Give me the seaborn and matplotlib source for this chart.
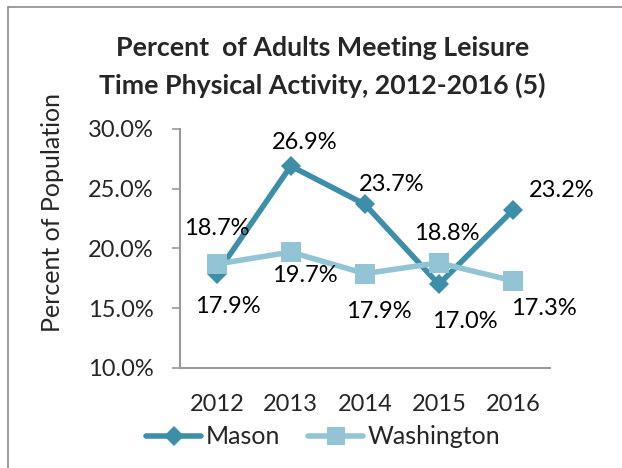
import matplotlib
matplotlib.use("Agg")
import matplotlib.pyplot as plt
import seaborn as sns
import pandas as pd
from matplotlib.lines import Line2D

years = ["2012", "2013", "2014", "2015", "2016"]
mason = [17.9, 26.9, 23.7, 17.0, 23.2]
washington = [18.7, 19.7, 17.9, 18.8, 17.3]

# label offsets (pixels) for each point
mason_off = [(11, -33), (14, 24), (27, 20), (26, -37), (49, 20)]
wash_off = [(0, 36), (14, -23), (14, -38), (8, 29), (31, -28)]

sns.set_theme(style="white")
plt.rcParams["font.family"] = ["Lato", "DejaVu Sans"]

MASON_C = "#3D8FA9"
WASH_C = "#93C4D6"

df = pd.DataFrame({
    "pos": list(range(len(years))) * 2,
    "value": mason + washington,
    "series": ["Mason"] * len(years) + ["Washington"] * len(years),
})

fig = plt.figure(figsize=(6.22, 4.68), dpi=100)
ax = fig.add_axes([0.289, 0.2137, 0.595, 0.5107])

sns.lineplot(data=df[df.series == "Mason"], x="pos", y="value", color=MASON_C,
             marker="D", linewidth=4, markersize=10, markeredgewidth=0, ax=ax)
sns.lineplot(data=df[df.series == "Washington"], x="pos", y="value", color=WASH_C,
             marker="s", linewidth=4, markersize=14, markeredgewidth=0, ax=ax)

for i, (m, w) in enumerate(zip(mason, washington)):
    ax.annotate(f"{m:.1f}%", (i, m), xytext=mason_off[i], textcoords="offset pixels",
                ha="center", va="center", fontsize=17, color="black")
    ax.annotate(f"{w:.1f}%", (i, w), xytext=wash_off[i], textcoords="offset pixels",
                ha="center", va="center", fontsize=17, color="black")

ax.set_xlim(-0.5, len(years) - 0.5)
ax.set_ylim(10, 30)
ax.set_yticks([10, 15, 20, 25, 30])
ax.set_yticklabels([f"{v:.1f}%" for v in [10, 15, 20, 25, 30]], fontsize=17)
ax.set_xticks(range(len(years)))
ax.set_xticklabels(years, fontsize=17)
ax.set_xticks([i - 0.5 for i in range(len(years) + 1)], minor=True)
ax.tick_params(axis="x", which="major", length=0, pad=19)
ax.tick_params(axis="x", which="minor", length=6, width=1.2, color="#9a9a9a", direction="out")
ax.tick_params(axis="y", length=6, width=1.2, color="#9a9a9a", direction="out", pad=13, left=True)
ax.set_xlabel("")
ax.set_ylabel("")
fig.text(53 / 622, 1 - 212 / 468, "Percent of Population", rotation=90,
         ha="center", va="center", fontsize=18)

for s in ["top", "right"]:
    ax.spines[s].set_visible(False)
for s in ["left", "bottom"]:
    ax.spines[s].set_color("#9a9a9a")
    ax.spines[s].set_linewidth(1.5)

fig.text(0.518, 1 - 48 / 468, "Percent  of Adults Meeting Leisure", ha="center", va="center",
         fontsize=19.3, fontweight="bold")
fig.text(0.518, 1 - 85 / 468, "Time Physical Activity, 2012-2016 (5)", ha="center", va="center",
         fontsize=19.3, fontweight="bold")

handles = [
    Line2D([], [], color=MASON_C, lw=4, marker="D", markersize=10, markeredgewidth=0),
    Line2D([], [], color=WASH_C, lw=4, marker="s", markersize=13, markeredgewidth=0),
]
fig.legend(handles, ["Mason", "Washington"], loc="center", bbox_to_anchor=(0.52, 1 - 437 / 468),
           ncol=2, frameon=False, fontsize=18, handlelength=2.2, handletextpad=0.2,
           columnspacing=1.1, borderpad=0, borderaxespad=0)

# outer chart border (top and left visible)
fig.add_artist(Line2D([8 / 622, 1], [1 - 7 / 468, 1 - 7 / 468], transform=fig.transFigure,
                      color="#8c8c8c", lw=1.2))
fig.add_artist(Line2D([8 / 622, 8 / 622], [0, 1 - 7 / 468], transform=fig.transFigure,
                      color="#8c8c8c", lw=1.2))

fig.savefig("out.png", dpi=100)
